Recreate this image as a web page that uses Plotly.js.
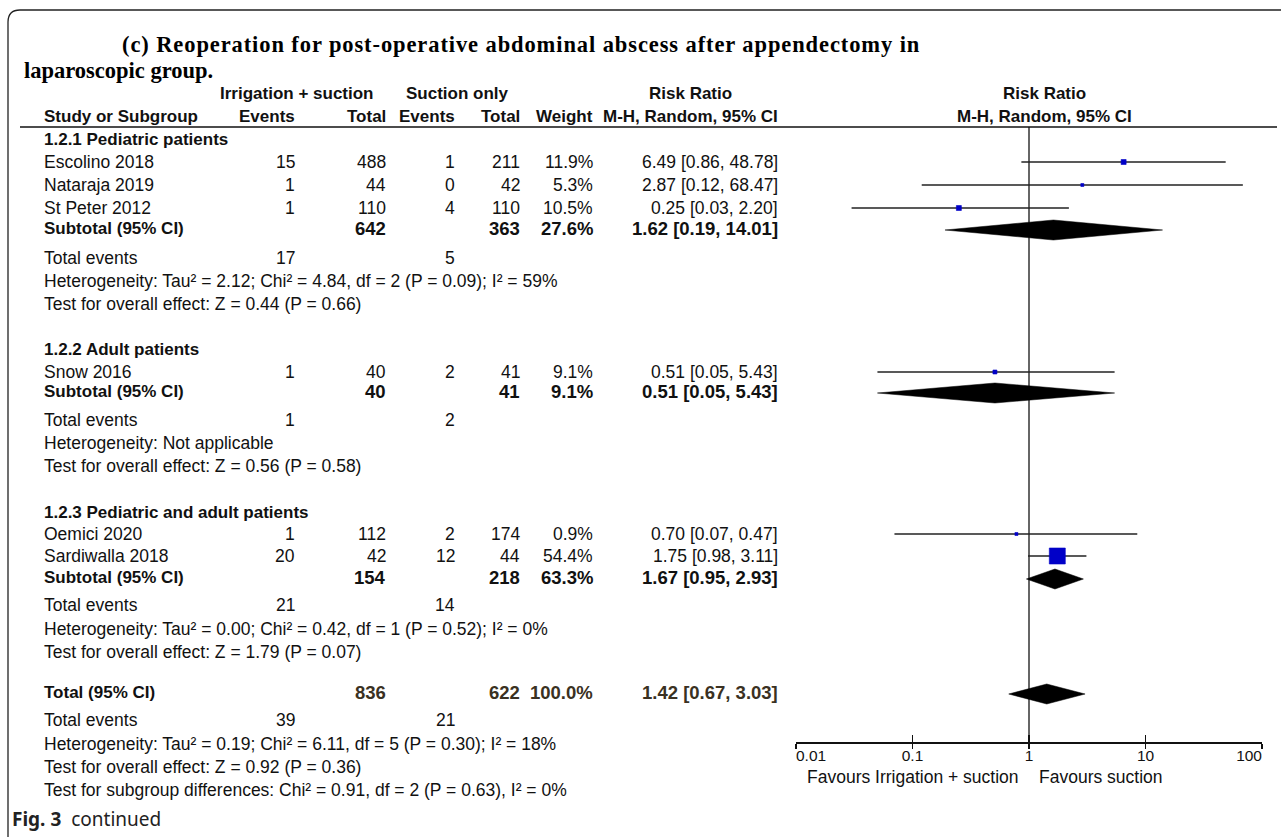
<!DOCTYPE html>
<html><head><meta charset="utf-8">
<script src="https://cdn.plot.ly/plotly-3.0.1.min.js"></script>
<style>html,body{margin:0;padding:0;background:#fff;}#chart{width:1281px;height:837px;}</style>
</head><body><div id="chart"></div>
<script>
// ---------------- DATA ----------------
const titleLine1 = "(c) Reoperation for post-operative abdominal abscess after appendectomy in";
const titleLine2 = "laparoscopic group.";
const groupNames = ["1.2.1 Pediatric patients", "1.2.2 Adult patients", "1.2.3 Pediatric and adult patients"];
const studies = ["Escolino 2018", "Nataraja 2019", "St Peter 2012", "Snow 2016", "Oemici 2020", "Sardiwalla 2018"];
const studyGroup = [0, 0, 0, 1, 2, 2];
const eventsIS = [15, 1, 1, 1, 1, 20];
const totalIS = [488, 44, 110, 40, 112, 42];
const eventsSO = [1, 0, 4, 2, 2, 12];
const totalSO = [211, 42, 110, 41, 174, 44];
const weights = [11.9, 5.3, 10.5, 9.1, 0.9, 54.4];
const ciLabels = ["6.49 [0.86, 48.78]", "2.87 [0.12, 68.47]", "0.25 [0.03, 2.20]", "0.51 [0.05, 5.43]", "0.70 [0.07, 0.47]", "1.75 [0.98, 3.11]"];
// risk ratio and CI as drawn in the plot
const rr = [6.49, 2.87, 0.25, 0.51, 0.78, 1.75];
const ciLow = [0.86, 0.12, 0.03, 0.05, 0.07, 0.98];
const ciHigh = [48.78, 68.47, 2.20, 5.43, 8.5, 3.11];

const subTotalIS = [642, 40, 154];
const subTotalSO = [363, 41, 218];
const subWeight = [27.6, 9.1, 63.3];
const subRR = [1.62, 0.51, 1.67];
const subLow = [0.19, 0.05, 0.95];
const subHigh = [14.01, 5.43, 2.93];
const subEventsIS = [17, 1, 21];
const subEventsSO = [5, 2, 14];
const subHet = ["Heterogeneity: Tau\u00b2 = 2.12; Chi\u00b2 = 4.84, df = 2 (P = 0.09); I\u00b2 = 59%",
                "Heterogeneity: Not applicable",
                "Heterogeneity: Tau\u00b2 = 0.00; Chi\u00b2 = 0.42, df = 1 (P = 0.52); I\u00b2 = 0%"];
const subTest = ["Test for overall effect: Z = 0.44 (P = 0.66)",
                 "Test for overall effect: Z = 0.56 (P = 0.58)",
                 "Test for overall effect: Z = 1.79 (P = 0.07)"];

const overallTotalIS = 836, overallTotalSO = 622, overallWeight = 100.0;
const overallRR = [1.42], overallLow = [0.67], overallHigh = [3.03];
const overallEventsIS = 39, overallEventsSO = 21;
const overallHet = "Heterogeneity: Tau\u00b2 = 0.19; Chi\u00b2 = 6.11, df = 5 (P = 0.30); I\u00b2 = 18%";
const overallTest = "Test for overall effect: Z = 0.92 (P = 0.36)";
const subgroupTest = "Test for subgroup differences: Chi\u00b2 = 0.91, df = 2 (P = 0.63), I\u00b2 = 0%";

const tickVals = [0.01, 0.1, 1, 10, 100];
const tickLabels = ["0.01", "0.1", "1", "10", "100"];
const favoursLeft = "Favours Irrigation + suction";
const favoursRight = "Favours suction";

// ---------------- LAYOUT (pixel rows / columns) ----------------
const W = 1281, H = 837;
const studyY = [162, 185, 208, 372, 534, 556];
const groupY = [139, 349, 512];
const subY = [228, 391, 577];
const subEvY = [258, 420, 605];
const subHetY = [281, 443, 629];
const subTestY = [304, 466, 652];
const totY = 692, totEvY = 720, totHetY = 744, totTestY = 767, subDiffY = 790;
const boxPx = [5, 3, 5, 4, 3, 16];
const colX = {label: 42, evIS: 297, totIS: 388, evSO: 457, totSO: 522, weight: 595, ci: 780};
const axisY = 742, headerLineY = 127;
const plotX0 = 796, plotX1 = 1262;

const FONT = "Liberation Sans, Arial, sans-serif";
const FONTB = "Liberation Sans, Arial, sans-serif";
const TXT = "#111111";
const TOTAL_TXT = "#3a3122";
const SZ = 17.5, SZB = 17, SZBN = 18.5;

const ann = [];
function T(x, y, text, opts) {
  opts = opts || {};
  ann.push({xref: "x3", yref: "y3", x: x, y: y, text: text, showarrow: false,
    xanchor: opts.anchor || "left", yanchor: "middle",
    font: {family: opts.bold ? FONTB : FONT, size: opts.size || (opts.bold ? SZB : SZ), color: opts.color || TXT,
           weight: opts.bold ? 700 : 400}});
}

// titles (index 0 and 1)
ann.push({xref: "x3", yref: "y3", x: 120, y: 44, text: "<b>" + titleLine1 + "</b>", showarrow: false, xanchor: "left", yanchor: "middle", align: "left",
  font: {family: "Liberation Serif, Times New Roman, serif", size: 22.5, color: "#000"}});
ann.push({xref: "x3", yref: "y3", x: 22, y: 70, text: "<b>" + titleLine2 + "</b>", showarrow: false, xanchor: "left", yanchor: "middle", align: "left",
  font: {family: "Liberation Serif, Times New Roman, serif", size: 22.5, color: "#000"}});

// headers
T(297, 93, "Irrigation + suction", {bold: true, anchor: "center"});
T(457, 93, "Suction only", {bold: true, anchor: "center"});
T(690, 93, "Risk Ratio", {bold: true, anchor: "center"});
T(1044, 93, "Risk Ratio", {bold: true, anchor: "center"});
T(colX.label, 116, "Study or Subgroup", {bold: true});
T(colX.evIS, 116, "Events", {bold: true, anchor: "right"});
T(colX.totIS, 116, "Total", {bold: true, anchor: "right"});
T(colX.evSO, 116, "Events", {bold: true, anchor: "right"});
T(colX.totSO, 116, "Total", {bold: true, anchor: "right"});
T(colX.weight, 116, "Weight", {bold: true, anchor: "right"});
T(colX.ci, 116, "M-H, Random, 95% CI", {bold: true, anchor: "right"});
T(1044, 116, "M-H, Random, 95% CI", {bold: true, anchor: "center"});

// groups
for (let g = 0; g < groupNames.length; g++) {
  T(colX.label, groupY[g], groupNames[g], {bold: true});
  T(colX.label, subY[g], "Subtotal (95% CI)", {bold: true});
  T(colX.totIS, subY[g], String(subTotalIS[g]), {bold: true, size: SZBN, anchor: "right"});
  T(colX.totSO, subY[g], String(subTotalSO[g]), {bold: true, size: SZBN, anchor: "right"});
  T(colX.weight, subY[g], subWeight[g].toFixed(1) + "%", {bold: true, size: SZBN, anchor: "right"});
  T(colX.ci, subY[g], subRR[g].toFixed(2) + " [" + subLow[g].toFixed(2) + ", " + subHigh[g].toFixed(2) + "]", {bold: true, size: SZBN, anchor: "right"});
  T(colX.label, subEvY[g], "Total events");
  T(colX.evIS, subEvY[g], String(subEventsIS[g]), {anchor: "right"});
  T(colX.evSO, subEvY[g], String(subEventsSO[g]), {anchor: "right"});
  T(colX.label, subHetY[g], subHet[g]);
  T(colX.label, subTestY[g], subTest[g]);
}
for (let i = 0; i < studies.length; i++) {
  const y = studyY[i];
  T(colX.label, y, studies[i]);
  T(colX.evIS, y, String(eventsIS[i]), {anchor: "right"});
  T(colX.totIS, y, String(totalIS[i]), {anchor: "right"});
  T(colX.evSO, y, String(eventsSO[i]), {anchor: "right"});
  T(colX.totSO, y, String(totalSO[i]), {anchor: "right"});
  T(colX.weight, y, weights[i].toFixed(1) + "%", {anchor: "right"});
  T(colX.ci, y, ciLabels[i], {anchor: "right"});
}
// overall
T(colX.label, totY, "Total (95% CI)", {bold: true});
T(colX.totIS, totY, String(overallTotalIS), {bold: true, size: SZBN, anchor: "right", color: TOTAL_TXT});
T(colX.totSO, totY, String(overallTotalSO), {bold: true, size: SZBN, anchor: "right", color: TOTAL_TXT});
T(colX.weight, totY, overallWeight.toFixed(1) + "%", {bold: true, size: SZBN, anchor: "right", color: TOTAL_TXT});
T(colX.ci, totY, overallRR[0].toFixed(2) + " [" + overallLow[0].toFixed(2) + ", " + overallHigh[0].toFixed(2) + "]", {bold: true, size: SZBN, anchor: "right", color: TOTAL_TXT});
T(colX.label, totEvY, "Total events");
T(colX.evIS, totEvY, String(overallEventsIS), {anchor: "right"});
T(colX.evSO, totEvY, String(overallEventsSO), {anchor: "right"});
T(colX.label, totHetY, overallHet);
T(colX.label, totTestY, overallTest);
T(colX.label, subDiffY, subgroupTest);

// favours
T(1021, 777, favoursLeft, {anchor: "right"});
T(1037, 777, favoursRight, {anchor: "left"});

// Fig caption
ann.push({xref: "x3", yref: "y3", x: 10, y: 819, text: "<b>Fig. 3</b>  continued", showarrow: false, xanchor: "left", yanchor: "middle",
  font: {family: "Noto Sans, Open Sans, sans-serif", size: 19, color: "#222"}});

// ---------------- TRACES ----------------
const traces = [];
traces.push({x: [0, W], y: [0, H], xaxis: "x3", yaxis: "y3", mode: "markers", marker: {opacity: 0}, hoverinfo: "skip", showlegend: false});
// line of no effect
traces.push({x: [1, 1], y: [headerLineY, axisY], xaxis: "x", yaxis: "y", mode: "lines", line: {color: "#333", width: 1.5}, hoverinfo: "skip", showlegend: false});
// CI lines
for (let i = 0; i < studies.length; i++) {
  traces.push({x: [ciLow[i], ciHigh[i]], y: [studyY[i], studyY[i]], mode: "lines", line: {color: "#222", width: 1.5}, hoverinfo: "skip", showlegend: false});
}
// boxes
traces.push({x: rr, y: studyY, mode: "markers", marker: {symbol: "square", color: "#0000C8", opacity: 1, size: boxPx, line: {width: 0.6, color: "#0000C8"}}, hoverinfo: "skip", showlegend: false});
// diamonds
function diamond(lo, mid, hi, y) {
  traces.push({x: [lo, mid, hi, mid, lo], y: [y, y - 10, y, y + 10, y], mode: "lines", fill: "toself", fillcolor: "#000",
    line: {color: "#000", width: 0.5}, hoverinfo: "skip", showlegend: false});
}
for (let g = 0; g < subRR.length; g++) diamond(subLow[g], subRR[g], subHigh[g], subY[g] + 2);
diamond(overallLow[0], overallRR[0], overallHigh[0], totY + 2);
// tick labels
traces.push({x: tickVals, y: tickVals.map(() => 757), mode: "text", text: tickLabels,
  textposition: ["middle right", "middle center", "middle center", "middle center", "middle left"],
  textfont: {family: FONT, size: 15.5, color: TXT}, hoverinfo: "skip", showlegend: false, cliponaxis: false});

// ---------------- SHAPES ----------------
const shapes = [
  {type: "line", xref: "x3", yref: "y3", x0: 20, x1: 1277, y0: headerLineY, y1: headerLineY, line: {color: "#111", width: 1.6}},
  {type: "path", xref: "x3", yref: "y3", path: "M 8 840 L 8 22 Q 8 10 20 10 L 1281 10", line: {color: "#222", width: 1.3}}
];

const layout = {
  width: W, height: H, margin: {l: 0, r: 0, t: 0, b: 0}, paper_bgcolor: "#fff", plot_bgcolor: "rgba(0,0,0,0)",
  showlegend: false,
  xaxis: {type: "log", range: [-2, 2], domain: [plotX0 / W, plotX1 / W], anchor: "free", position: 1 - axisY / H,
          showline: true, linecolor: "#111", linewidth: 1.5, ticks: "outside", ticklen: 5, tickwidth: 1.5, tickcolor: "#111",
          tickvals: tickVals, showticklabels: false, showgrid: false, zeroline: false, fixedrange: true},
  xaxis2: {type: "log", range: [-2, 2], domain: [plotX0 / W, plotX1 / W], anchor: "free", position: 1 - axisY / H, overlaying: "x",
          showline: false, ticks: "inside", ticklen: 7, tickwidth: 1.5, tickcolor: "#111",
          tickvals: tickVals, showticklabels: false, showgrid: false, zeroline: false},
  yaxis: {range: [H, 0], domain: [0, 1], visible: false, fixedrange: true},
  xaxis3: {range: [0, W], domain: [0, 1], visible: false, anchor: "y3"},
  yaxis3: {range: [H, 0], domain: [0, 1], visible: false, anchor: "x3"},
  annotations: ann, shapes: shapes
};
traces.push({x: [1], y: [0], xaxis: "x2", yaxis: "y", mode: "markers", marker: {opacity: 0}, hoverinfo: "skip", showlegend: false});

Plotly.newPlot("chart", traces, layout, {displayModeBar: false, staticPlot: true}).then(function () {
  const t = document.querySelector('g.annotation[data-index="0"] text');
  if (t) t.style.letterSpacing = "0.9px";
});
</script></body></html>
